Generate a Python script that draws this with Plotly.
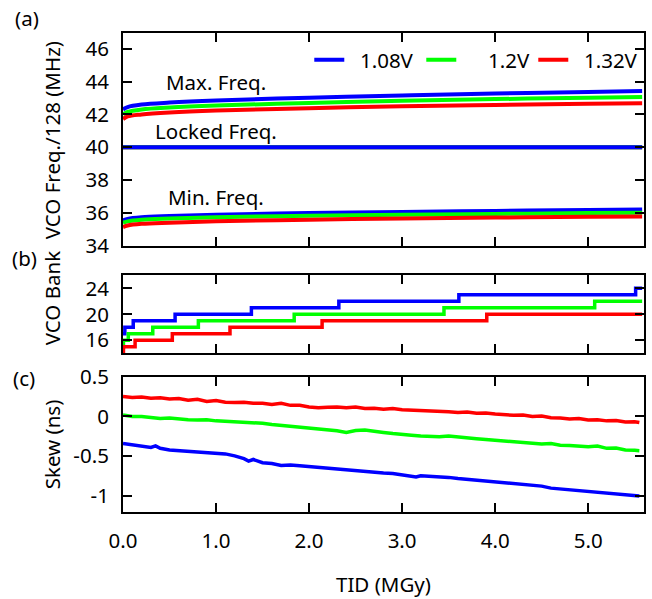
import plotly.graph_objects as go

# ---------------- data ----------------
labels = ["1.08V", "1.2V", "1.32V"]
colors = ["#0000ff", "#00ff00", "#ff0000"]

# panel (a): VCO frequency / 128 (MHz)
freq_x = [0.0, 0.05, 0.2, 0.5, 1.0, 2.0, 3.0, 4.0, 5.0, 5.58]
max_108 = [42.3, 42.45, 42.6, 42.72, 42.85, 43.02, 43.15, 43.27, 43.37, 43.43]
max_120 = [42.0, 42.15, 42.3, 42.42, 42.54, 42.7, 42.83, 42.93, 43.02, 43.06]
max_132 = [41.72, 41.88, 42.0, 42.12, 42.24, 42.38, 42.5, 42.58, 42.65, 42.68]
min_108 = [35.55, 35.65, 35.75, 35.82, 35.9, 36.0, 36.07, 36.13, 36.19, 36.22]
min_120 = [35.4, 35.5, 35.6, 35.67, 35.75, 35.84, 35.9, 35.95, 36.0, 36.02]
min_132 = [35.15, 35.25, 35.35, 35.42, 35.5, 35.6, 35.67, 35.73, 35.78, 35.8]
locked_x = [0.0, 5.58]
locked = [40.0, 40.0]

# panel (b): VCO bank (steps)
bank_x_108 = [0, 0.02, 0.11, 0.56, 1.38, 2.32, 3.61, 5.51, 5.58]
bank_108 = [17, 18, 19, 20, 21, 22, 23, 24, 24]
bank_x_120 = [0, 0.005, 0.057, 0.32, 0.81, 1.84, 3.45, 5.07, 5.58]
bank_120 = [15, 16, 17, 18, 19, 20, 21, 22, 22]
bank_x_132 = [0, 0.005, 0.13, 0.53, 1.15, 2.14, 3.91, 5.58]
bank_132 = [14, 15, 16, 17, 18, 19, 20, 20]

# panel (c): skew (ns)
skew_x = [0.0, 0.1, 0.2, 0.3, 0.4, 0.5, 0.6, 0.7, 0.8, 0.9,
          1.0, 1.1, 1.2, 1.3, 1.4, 1.5, 1.6, 1.7, 1.8, 1.9,
          2.0, 2.1, 2.2, 2.3, 2.4, 2.5, 2.6, 2.7, 2.8, 2.9,
          3.0, 3.1, 3.2, 3.3, 3.4, 3.5, 3.6, 3.7, 3.8, 3.9,
          4.0, 4.1, 4.2, 4.3, 4.4, 4.5, 4.6, 4.7, 4.8, 4.9,
          5.0, 5.1, 5.2, 5.3, 5.4, 5.5, 5.55]
skew_132 = [0.25, 0.24, 0.245, 0.23, 0.235, 0.22, 0.225, 0.205, 0.215, 0.19,
            0.2, 0.18, 0.175, 0.18, 0.165, 0.165, 0.15, 0.165, 0.14, 0.14,
            0.12, 0.11, 0.115, 0.12, 0.11, 0.12, 0.1, 0.105, 0.09, 0.1,
            0.085, 0.08, 0.085, 0.07, 0.075, 0.06, 0.05, 0.055, 0.04, 0.045,
            0.03, 0.02, 0.015, 0.02, 0.0, 0.005, -0.015, -0.02, -0.03, -0.025,
            -0.045, -0.04, -0.055, -0.05, -0.07, -0.065, -0.075]
skew_120 = [0.02, 0.0, 0.0, -0.01, -0.025, -0.02, -0.035, -0.04, -0.045, -0.04,
            -0.055, -0.06, -0.07, -0.075, -0.08, -0.085, -0.1, -0.11, -0.12, -0.13,
            -0.145, -0.16, -0.165, -0.18, -0.2, -0.175, -0.17, -0.19, -0.2, -0.215,
            -0.23, -0.235, -0.245, -0.25, -0.255, -0.245, -0.26, -0.275, -0.28, -0.29,
            -0.3, -0.305, -0.31, -0.32, -0.33, -0.345, -0.34, -0.36, -0.365, -0.37,
            -0.38, -0.37, -0.4, -0.395, -0.42, -0.425, -0.43]
skew_x_108 = [0.0, 0.1, 0.2, 0.3, 0.35, 0.4, 0.5, 0.6, 0.7, 0.8, 0.9,
              1.0, 1.1, 1.2, 1.3, 1.35, 1.4, 1.5, 1.6, 1.7, 1.8, 1.9,
              2.0, 2.1, 2.2, 2.3, 2.4, 2.5, 2.6, 2.7, 2.8, 2.9,
              3.0, 3.1, 3.15, 3.2, 3.3, 3.4, 3.5, 3.6, 3.7, 3.8, 3.9,
              4.0, 4.1, 4.2, 4.3, 4.4, 4.5, 4.6, 4.7, 4.8, 4.9,
              5.0, 5.1, 5.2, 5.3, 5.4, 5.5, 5.55]
skew_108 = [-0.34, -0.36, -0.375, -0.39, -0.37, -0.4, -0.42, -0.43, -0.435, -0.44, -0.45,
            -0.46, -0.47, -0.495, -0.53, -0.56, -0.54, -0.58, -0.59, -0.615, -0.61, -0.62,
            -0.63, -0.645, -0.66, -0.665, -0.675, -0.68, -0.69, -0.7, -0.71, -0.715,
            -0.73, -0.75, -0.76, -0.745, -0.75, -0.76, -0.765, -0.78, -0.79, -0.8, -0.815,
            -0.825, -0.83, -0.845, -0.855, -0.865, -0.875, -0.9, -0.91, -0.915, -0.93,
            -0.94, -0.955, -0.96, -0.965, -0.985, -0.99, -1.0]

x_ticks = [0, 1, 2, 3, 4, 5]
freq_ticks = [34, 36, 38, 40, 42, 44, 46]
bank_ticks = [16, 20, 24]
skew_ticks = [-1, -0.5, 0, 0.5]
skew_ticktext = ["-1", "-0.5", "0", "0.5"]

# ---------------- figure ----------------
FONT = "Noto Sans"
FS = 20.5
fig = go.Figure()

NB = "\u00a0"
legend_names = [NB * 2 + labels[0], NB * 5 + labels[1], NB * 2 + labels[2]]

max_sets = [max_108, max_120, max_132]
min_sets = [min_108, min_120, min_132]
for i in range(3):
    fig.add_trace(go.Scatter(x=freq_x, y=max_sets[i], mode="lines", name=legend_names[i],
                             line=dict(color=colors[i], width=4, shape="spline"),
                             xaxis="x", yaxis="y", legendgroup=labels[i]))
    fig.add_trace(go.Scatter(x=freq_x, y=min_sets[i], mode="lines", showlegend=False,
                             line=dict(color=colors[i], width=4, shape="spline"),
                             xaxis="x", yaxis="y", legendgroup=labels[i]))
for i in [2, 1, 0]:
    fig.add_trace(go.Scatter(x=locked_x, y=locked, mode="lines", showlegend=False,
                             line=dict(color=colors[i], width=4),
                             xaxis="x", yaxis="y"))

bank_xs = [bank_x_108, bank_x_120, bank_x_132]
bank_ys = [bank_108, bank_120, bank_132]
for i in range(3):
    fig.add_trace(go.Scatter(x=bank_xs[i], y=bank_ys[i], mode="lines", showlegend=False,
                             line=dict(color=colors[i], width=3.5, shape="hv"),
                             xaxis="x2", yaxis="y2"))

skew_xs = [skew_x_108, skew_x, skew_x]
skew_ys = [skew_108, skew_120, skew_132]
for i in range(3):
    fig.add_trace(go.Scatter(x=skew_xs[i], y=skew_ys[i], mode="lines", showlegend=False,
                             line=dict(color=colors[i], width=3.5),
                             xaxis="x3", yaxis="y3"))

L, R, T, B = 123, 6, 33, 87
W, H = 652, 599
PW = W - L - R
PH = H - T - B


def py(ypx):
    return (H - B - ypx) / PH


def px(xpx):
    return (xpx - L) / PW


axis_common = dict(showline=True, linecolor="black", linewidth=2, mirror="ticks",
                   ticks="inside", ticklen=9, tickwidth=1.5, tickcolor="black",
                   showgrid=False, zeroline=False,
                   tickfont=dict(family=FONT, size=FS, color="black"))

xa = dict(axis_common, range=[0, 5.6], tickvals=x_ticks)
fig.update_layout(
    xaxis=dict(xa, domain=[0, 1], anchor="y", showticklabels=False),
    xaxis2=dict(xa, domain=[0, 1], anchor="y2", showticklabels=False, matches="x"),
    xaxis3=dict(xa, domain=[0, 1], anchor="y3", tickformat=".1f", ticklabelstandoff=9),
    yaxis=dict(axis_common, domain=[py(246), 1], range=[34, 46.95], tickvals=freq_ticks,
               anchor="x", ticklabelstandoff=8),
    yaxis2=dict(axis_common, domain=[py(353.3), py(274.7)], range=[14, 26.1],
                tickvals=bank_ticks, anchor="x2", ticklabelstandoff=8),
    yaxis3=dict(axis_common, domain=[0, py(376.7)], range=[-1.2, 0.5], tickvals=skew_ticks,
                ticktext=skew_ticktext, anchor="x3", ticklabelstandoff=8),
)

ann_font = dict(family=FONT, size=FS, color="black")


def pann(text, xpx, ypx, angle=0):
    return dict(text=text, textangle=angle, x=px(xpx), y=py(ypx), xref="paper", yref="paper",
                xanchor="center", yanchor="middle", showarrow=False, font=ann_font)


annotations = [
    dict(text="Max. Freq.", x=1.0, y=43.96, xref="x", yref="y", xanchor="center",
         yanchor="middle", showarrow=False, font=ann_font),
    dict(text="Locked Freq.", x=1.0, y=40.98, xref="x", yref="y", xanchor="center",
         yanchor="middle", showarrow=False, font=ann_font),
    dict(text="Min. Freq.", x=1.0, y=36.95, xref="x", yref="y", xanchor="center",
         yanchor="middle", showarrow=False, font=ann_font),
    pann("VCO Freq./128 (MHz)", 52, 140, -90),
    pann("VCO Bank", 52, 298, -90),
    pann("Skew (ns)", 52, 444, -90),
    pann("TID (MGy)", 385, 584),
    pann("(a)", 27, 18),
    pann("(b)", 24, 258),
    pann("(c)", 24, 378),
]

fig.update_layout(
    width=W, height=H,
    margin=dict(l=L, r=R, t=T, b=B),
    paper_bgcolor="white", plot_bgcolor="white",
    font=dict(family=FONT, size=FS, color="black"),
    annotations=annotations,
    showlegend=True,
    legend=dict(orientation="h", x=px(310), xanchor="left",
                y=py(60), yanchor="middle", bgcolor="rgba(0,0,0,0)",
                entrywidth=67, entrywidthmode="pixels", itemwidth=30,
                font=dict(family=FONT, size=FS, color="black")),
)

fig.write_html("out.html")
